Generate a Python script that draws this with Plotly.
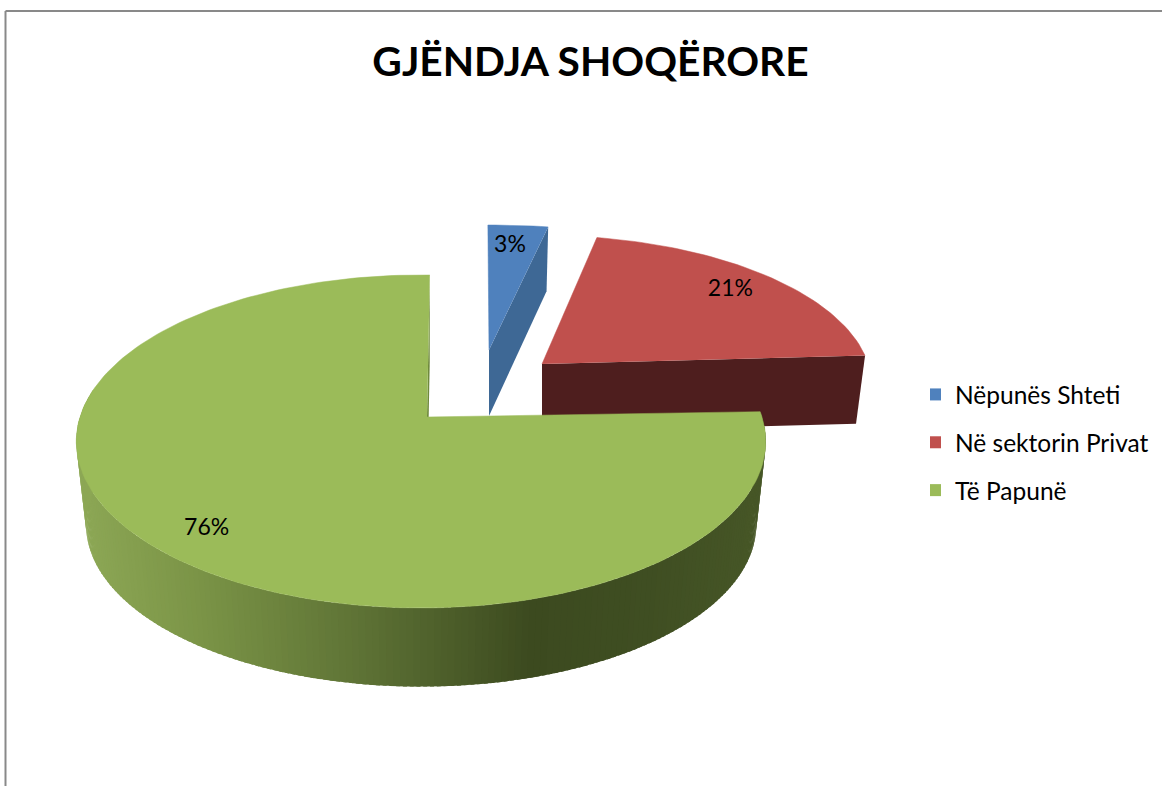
import math
import plotly.graph_objects as go

# ---- data ----
categories = ["Nëpunës Shteti", "Në sektorin Privat", "Të Papunë"]
values = [3, 21, 76]
title_text = "GJËNDJA SHOQËRORE"

# ---- styles ----
top_colors = ["#4F81BD", "#C0504D", "#9BBB59"]
side_colors = ["#3E6895", "#4E1E1E", "#5F7436"]
green_stops = [(80, "#8CA755"), (200, "#7A9346"), (350, "#5F7436"),
               (530, "#3C4A1F"), (650, "#3F4E22"), (770, "#475727")]
FONT = "Lato"

# view of the tilted disc
A, B, K = 341.0, 162.9, 0.147
slice_view = [
    dict(ax=489, ay=350, sx=1.08, sy=0.88, shift=0, rot=-0.2, depth=66, rim_depth=61, lab=(0.72, 0.83)),
    dict(ax=542, ay=364, sx=0.957, sy=0.905, shift=0, rot=0.3, depth=68, rim_depth=68, lab=(0.84, 0.83)),
    dict(ax=427, ay=417, sx=1.0, sy=1.0, shift=-6, rot=1.7, depth=84, rim_depth=84, lab=(0.82, 0.87)),
]
BOTTOM_SCALE = 0.972


def project(theta_deg, v, r=1.0, bottom=False):
    t = math.radians(theta_deg)
    uu, vv = r * math.sin(t), r * math.cos(t)
    w = 1 + K * vv
    dx = v["sx"] * A * uu / w + r * v["shift"]
    dy = -v["sy"] * B * vv / w
    if bottom:
        d = v["rim_depth"] if r > 0 else v["depth"]
        return v["ax"] + dx * BOTTOM_SCALE, v["ay"] + dy * BOTTOM_SCALE + d
    return v["ax"] + dx, v["ay"] + dy


def hex_rgb(h):
    return tuple(int(h[i:i + 2], 16) for i in (1, 3, 5))


def gradient(x):
    if x <= green_stops[0][0]:
        return green_stops[0][1]
    for (x0, c0), (x1, c1) in zip(green_stops, green_stops[1:]):
        if x <= x1:
            f = (x - x0) / (x1 - x0)
            a, b = hex_rgb(c0), hex_rgb(c1)
            return "rgb(%d,%d,%d)" % tuple(round(p + (q - p) * f) for p, q in zip(a, b))
    return green_stops[-1][1]


def poly(xs, ys, color, line=0):
    return go.Scatter(x=xs, y=ys, mode="lines", fill="toself", fillcolor=color,
                      line=dict(color=color, width=line), showlegend=False, hoverinfo="skip")


# angular spans from the values
total = sum(values)
spans, start = [], 0.0
for val in values:
    end = start + 360.0 * val / total
    spans.append((start, end))
    start = end

fig = go.Figure()

for i in range(3):
    v = slice_view[i]
    a0, a1 = spans[i][0] + v["rot"], spans[i][1] + v["rot"]
    rx, ry = project(a1, v)
    bx, by = project(a1, v, bottom=True)
    ax2, ay2 = project(a1, v, r=0, bottom=True)
    if i < 2:
        # exposed cut face on the clockwise side
        fig.add_trace(poly([v["ax"], rx, bx, ax2], [v["ay"], ry, by, ay2], side_colors[i]))
    else:
        # thin cut face near twelve o'clock
        fig.add_trace(poly([v["ax"], rx, bx, ax2], [v["ay"], ry, by, ay2], "#6F8A3C"))
        # rim, shaded segment by segment (drawn with overlap to hide seams)
        th = a0
        while th < 280:
            nx = min(th + 1.0, 280)
            p0, p1 = project(th, v), project(min(nx + 0.6, 280), v)
            q1, q0 = project(min(nx + 0.6, 280), v, bottom=True), project(th, v, bottom=True)
            c = gradient((p0[0] + p1[0]) / 2)
            fig.add_trace(poly([p0[0], p1[0], q1[0], q0[0]], [p0[1], p1[1], q1[1], q0[1]], c, 0))
            th = nx
    # top face
    n = max(8, int((a1 - a0) / 1.5))
    pts = [project(a0 + (a1 - a0) * j / n, v) for j in range(n + 1)]
    fig.add_trace(poly([v["ax"]] + [p[0] for p in pts], [v["ay"]] + [p[1] for p in pts],
                       top_colors[i], 0.5))

# data labels
for i in range(3):
    v = slice_view[i]
    mid = (spans[i][0] + spans[i][1]) / 2 + v["rot"]
    t = math.radians(mid)
    lx = v["ax"] + v["lab"][0] * v["sx"] * A * math.sin(t) / (1 + K * math.cos(t))
    ly = v["ay"] - v["lab"][1] * v["sy"] * B * math.cos(t) / (1 + K * math.cos(t))
    fig.add_trace(go.Scatter(x=[lx], y=[ly], mode="text", text=[f"{values[i]}%"],
                             textfont=dict(family=FONT, size=23, color="black"),
                             textposition="middle center", showlegend=False, hoverinfo="skip"))

# legend
for i in range(3):
    fig.add_trace(go.Scatter(x=[None], y=[None], mode="markers", name=categories[i],
                             legendgroup=categories[i],
                             marker=dict(symbol="square", size=16, color=top_colors[i])))

fig.update_layout(
    width=1162, height=786, margin=dict(l=0, r=0, t=0, b=0),
    paper_bgcolor="white", plot_bgcolor="white",
    xaxis=dict(range=[0, 1162], visible=False, fixedrange=True),
    yaxis=dict(range=[786, 0], visible=False, fixedrange=True),
    title=dict(text=f"<b>{title_text}</b>", x=590.5 / 1162, xanchor="center", y=1 - 62 / 786,
               yanchor="middle", font=dict(family=FONT, size=40.7, color="black")),
    legend=dict(x=930 / 1162, y=1 - 372 / 786, xanchor="left", yanchor="top",
                font=dict(family=FONT, size=24.5, color="black"), tracegroupgap=13,
                indentation=-15,
                bgcolor="rgba(0,0,0,0)", itemsizing="constant"),
    shapes=[
        dict(type="line", xref="x", yref="y", x0=5.5, x1=1162, y0=11, y1=11,
             line=dict(color="#898989", width=2)),
        dict(type="line", xref="x", yref="y", x0=5.5, x1=5.5, y0=11, y1=786,
             line=dict(color="#898989", width=2)),
    ],
)
fig.write_html("out.html", config={"displayModeBar": False},
               post_script="document.body.style.margin='0';")
